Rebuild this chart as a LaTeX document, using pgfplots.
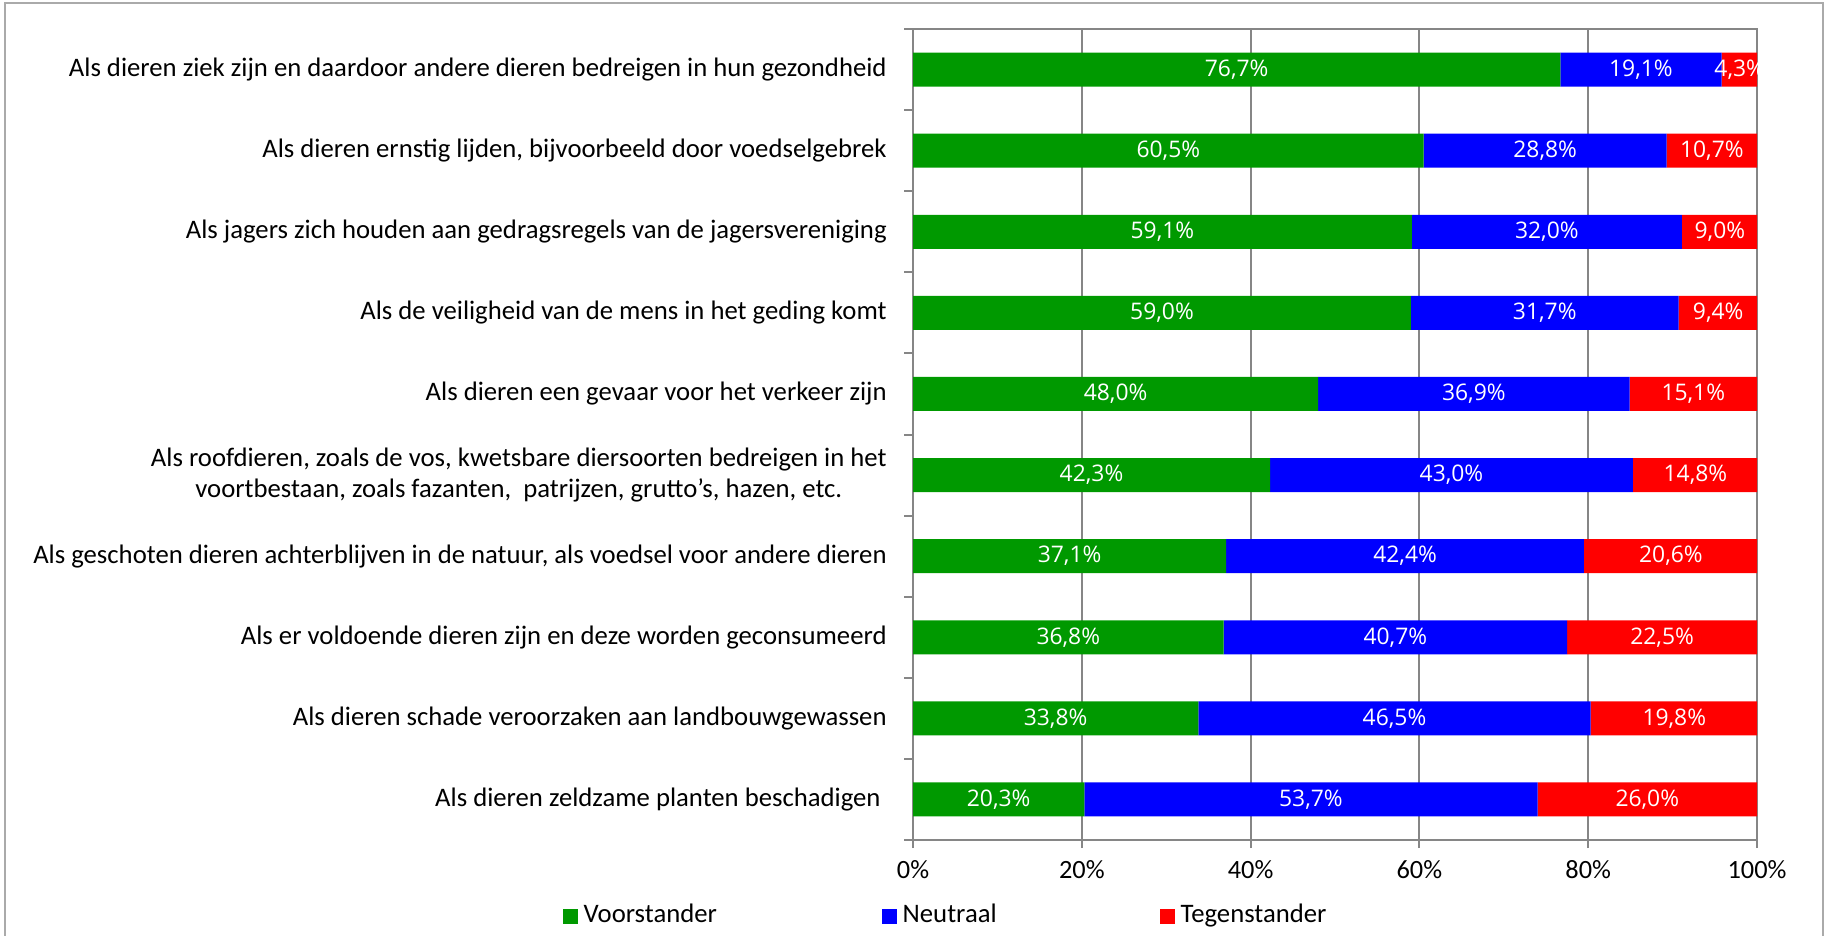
\documentclass[border=0pt]{standalone}
\usepackage{fontspec}
\setmainfont{Carlito}
\newfontfamily\barfont{Open Sans}
\usepackage{pgfplots}
\pgfplotsset{compat=1.18}
\usepackage{pgfplotstable}

\definecolor{cgreen}{RGB}{0,153,0}
\definecolor{cblue}{RGB}{0,0,255}
\definecolor{cred}{RGB}{255,0,0}
\definecolor{axisgray}{RGB}{134,134,134}
\definecolor{framegray}{RGB}{170,170,170}

\pgfplotstableread{
idx v n t
0 76.7 19.1 4.3
1 60.5 28.8 10.7
2 59.1 32.0 9.0
3 59.0 31.7 9.4
4 48.0 36.9 15.1
5 42.3 43.0 14.8
6 37.1 42.4 20.6
7 36.8 40.7 22.5
8 33.8 46.5 19.8
9 20.3 53.7 26.0
}\data

\pgfplotsset{
  /pgf/number format/assume math mode=true,
  geom/.style={
    at={(91.3mm,9.6mm)}, anchor=south west,
    scale only axis, width=84.4mm, height=81.1mm,
    xmin=0, xmax=100, ymin=-0.5, ymax=9.5, y dir=reverse,
  }
}

\begin{document}
\begin{tikzpicture}
\useasboundingbox (0,0) rectangle (182.5mm,93.6mm);
\draw[framegray, line width=0.2mm] (0.5mm,-2mm) rectangle (182.3mm,93.3mm);

\begin{axis}[
  geom,
  xbar stacked, bar width=3.4mm,
  xtick={0,20,40,60,80,100},
  xticklabels={0\%,20\%,40\%,60\%,80\%,100\%},
  ytick={0,1,2,3,4,5,6,7,8,9},
  yticklabels={
    Als dieren ziek zijn en daardoor andere dieren bedreigen in hun gezondheid,
    {Als dieren ernstig lijden, bijvoorbeeld door voedselgebrek},
    Als jagers zich houden aan gedragsregels van de jagersvereniging,
    Als de veiligheid van de mens in het geding komt,
    Als dieren een gevaar voor het verkeer zijn,
    {Als roofdieren, zoals de vos, kwetsbare diersoorten bedreigen in het\\voortbestaan, zoals fazanten,\ \ patrijzen, grutto’s, hazen, etc.},
    {Als geschoten dieren achterblijven in de natuur, als voedsel voor andere dieren},
    Als er voldoende dieren zijn en deze worden geconsumeerd,
    Als dieren schade veroorzaken aan landbouwgewassen,
    Als dieren zeldzame planten beschadigen\ 
  },
  minor ytick={-0.5,0.5,1.5,2.5,3.5,4.5,5.5,6.5,7.5,8.5,9.5},
  tick align=outside, xtick pos=bottom, ytick pos=left,
  major tick length=0.8mm, minor tick length=0.9mm,
  major y tick style={draw=none},
  tick style={axisgray, line width=0.2mm},
  axis line style={axisgray, line width=0.2mm},
  xmajorgrids, major grid style={axisgray, line width=0.2mm},
  tick label style={font=\fontsize{7.5}{8.9}\selectfont, black},
  yticklabel style={align=center, xshift=-0.6mm, font=\fontsize{7.6}{8.9}\selectfont},
  legend style={at={(axis description cs:-0.4159,-0.094)}, anchor=west,
    draw=none, fill=none, inner sep=0pt, legend columns=3,
    nodes={inner sep=0pt},
    font=\fontsize{7.6}{8.9}\selectfont},
  legend image code/.code={\fill[#1] (0mm,-0.75mm) rectangle (1.5mm,0.75mm);},
]
\addplot[fill=cgreen, draw=none] table[x=v, y=idx]{\data};
\addlegendentry{\makebox[30.4mm][l]{\hspace{0.6mm}Voorstander}}
\addplot[fill=cblue, draw=none] table[x=n, y=idx]{\data};
\addlegendentry{\makebox[26.3mm][l]{\hspace{0.6mm}Neutraal}}
\addplot[fill=cred, draw=none] table[x=t, y=idx]{\data};
\addlegendentry{\hspace{0.6mm}Tegenstander}
\end{axis}

\begin{scope}
\clip (0,0) rectangle (175.7mm,93.6mm);
\begin{axis}[
  geom, hide axis,
  point meta=explicit,
  nodes near coords={\pgfmathprintnumber[fixed,fixed zerofill,precision=1,use comma]{\pgfplotspointmeta}\%},
  every node near coord/.append style={anchor=center, text=white, font=\barfont\fontsize{6.5}{7.5}\selectfont},
]
\addplot[only marks, mark=none] table[x expr=\thisrow{v}/2, y=idx, meta=v]{\data};
\addplot[only marks, mark=none] table[x expr=\thisrow{v}+\thisrow{n}/2, y=idx, meta=n]{\data};
\addplot[only marks, mark=none] table[x expr=\thisrow{v}+\thisrow{n}+\thisrow{t}/2, y=idx, meta=t]{\data};
\end{axis}
\end{scope}
\end{tikzpicture}
\end{document}
